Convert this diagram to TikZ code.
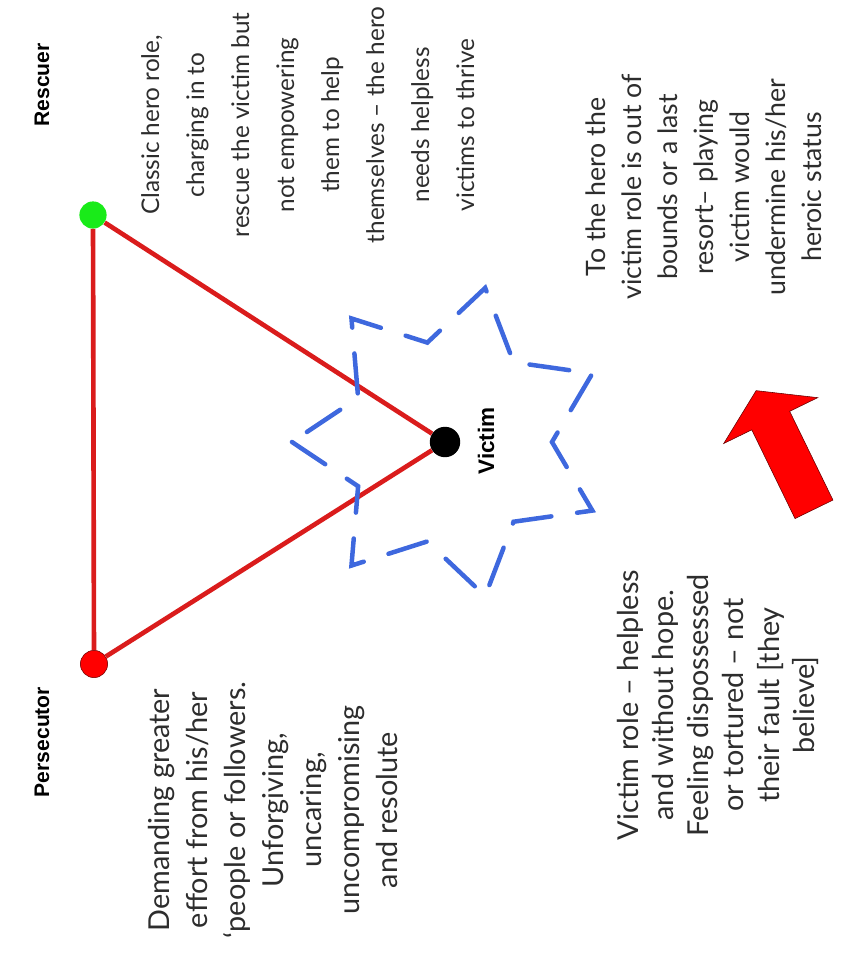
\documentclass[tikz,border=0pt]{standalone}
\usepackage{fontspec}
\setmainfont{Liberation Sans}
\newfontfamily\handfont{Lato}
\usetikzlibrary{shapes.geometric,shapes.arrows}

\definecolor{trired}{RGB}{218,28,28}
\definecolor{haloblue}{RGB}{62,104,222}
\definecolor{dotgreen}{RGB}{25,235,25}
\definecolor{inkgray}{RGB}{45,45,45}

\begin{document}
\begin{tikzpicture}[
  x=0.025cm, y=0.025cm,
  dot/.style={circle, minimum size=0.68cm, inner sep=0pt},
  side/.style={trired, line width=3.3pt},
  role/.style={font=\fontsize{15}{18}\selectfont\bfseries, rotate=90, inner sep=0pt},
  note/.style 2 args={font=\handfont\fontsize{#1}{#2}\selectfont, align=center,
               rotate=90, anchor=north, text=inkgray, inner sep=0pt},
  halo/.style={star, star points=7, star point ratio=1.55, minimum size=7.9cm,
               rotate=90, draw=haloblue, line width=3.2pt, inner sep=0pt,
               dash pattern=on 1cm off 0.65cm, line cap=round},
  pointer/.style={single arrow, fill=red, draw=red!40!black, thin, rotate=116,
                  minimum height=3.3cm, minimum width=2.6cm, inner sep=0.52cm,
                  single arrow head extend=0.78cm, single arrow tip angle=115}]

\useasboundingbox (0,0) rectangle (843,-955);

% ---- triangle ----
\node[dot, fill=dotgreen] (rescuer) at (93,-215) {};
\node[dot, fill=red, draw=red!45!black, thin] (persecutor) at (94,-664) {};
\node[dot, fill=black, minimum size=0.76cm] (victim) at (445,-442) {};

\draw[side] (rescuer) -- (persecutor) -- (victim) -- (rescuer);

\node[halo] (halo) at (450,-442) {};

\node[role] (rescuerlbl) at (42,-85) {Rescuer};
\node[role] (persecutorlbl) at (42,-742) {Persecutor};
\node[role, font=\fontsize{16}{18}\selectfont\bfseries] (victimlbl) at (486,-441) {Victim};

% ---- notes ----
\node[note={17.3}{32}] (rescuernote) at (141,-125)
  {Classic hero role,\\charging in to\\rescue the victim but\\not empowering\\them to help\\themselves – the hero\\needs helpless\\victims to thrive};
\node[note={19}{25.5}] (heronote) at (586,-187)
  {To the hero the\\victim role is out of\\bounds or a last\\resort– playing\\victim would\\undermine his/her\\heroic status};
\node[note={20.5}{27}] (persecutornote) at (148,-810)
  {Demanding greater\\effort from his/her\\‘people or followers.\\Unforgiving,\\uncaring,\\uncompromising\\and resolute};
\node[note={20.5}{25}] (victimnote) at (617,-705)
  {Victim role – helpless\\and without hope.\\Feeling dispossessed\\or tortured – not\\their fault [they\\believe]};

% ---- big arrow ----
\node[pointer] (pointer) at (788,-456) {};
\end{tikzpicture}
\end{document}
